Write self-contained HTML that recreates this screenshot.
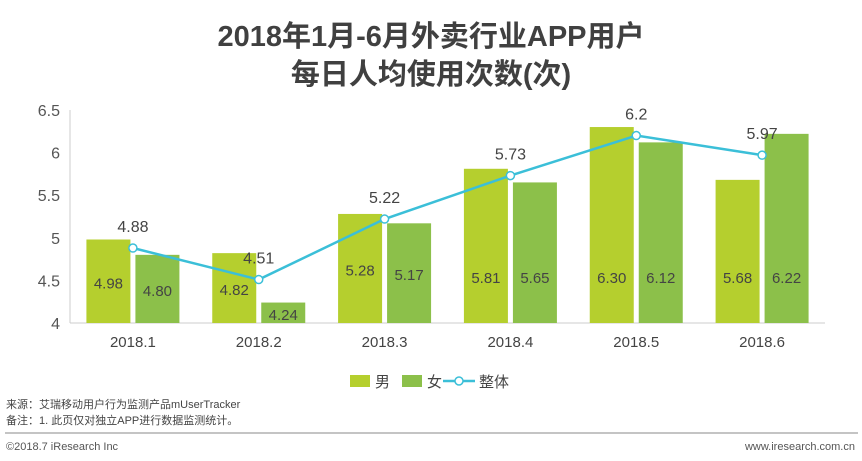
<!DOCTYPE html>
<html><head><meta charset="utf-8">
<style>
body{margin:0;background:#fff;width:862px;height:456px;overflow:hidden;font-family:"Liberation Sans","Noto Sans CJK SC",sans-serif;}
svg text{font-family:"Liberation Sans","Noto Sans CJK SC",sans-serif;}
</style></head>
<body>
<svg id="c" width="862" height="456">
<text x="431" y="46" text-anchor="middle" font-size="29" font-weight="bold" fill="#404040">2018年1月-6月外卖行业APP用户</text>
<text x="431" y="84" text-anchor="middle" font-size="29" font-weight="bold" fill="#404040">每日人均使用次数(次)</text>
<g id="plot"></g>
<g>
<rect x="350" y="375" width="20" height="12" fill="#b5cf2e"/>
<text x="375" y="387" font-size="15" fill="#444">男</text>
<rect x="402" y="375" width="20" height="12" fill="#8cc04a"/>
<text x="427" y="387" font-size="15" fill="#444">女</text>
<line x1="443" y1="381" x2="475" y2="381" stroke="#3bbfd8" stroke-width="2.5"/>
<circle cx="459" cy="381" r="4" fill="#fff" stroke="#3bbfd8" stroke-width="1.5"/>
<text x="479" y="387" font-size="15" fill="#444">整体</text>
</g>
<text x="6" y="408" font-size="11" fill="#444">来源：艾瑞移动用户行为监测产品mUserTracker</text>
<text x="6" y="424" font-size="11" fill="#444">备注：1. 此页仅对独立APP进行数据监测统计。</text>
<line x1="5" y1="433" x2="858" y2="433" stroke="#888" stroke-width="1"/>
<text x="6" y="450" font-size="11" fill="#555">©2018.7 iResearch Inc</text>
<text x="855" y="450" text-anchor="end" font-size="11" fill="#555">www.iresearch.com.cn</text>
</svg>
<script>
const categories=["2018.1","2018.2","2018.3","2018.4","2018.5","2018.6"];
const maleValues=[4.98,4.82,5.28,5.81,6.30,5.68];
const femaleValues=[4.80,4.24,5.17,5.65,6.12,6.22];
const totalValues=[4.88,4.51,5.22,5.73,6.2,5.97];
const totalLabels=["4.88","4.51","5.22","5.73","6.2","5.97"];
const yTicks=[4,4.5,5,5.5,6,6.5];
const yTickLabels=["4","4.5","5","5.5","6","6.5"];
const NS="http://www.w3.org/2000/svg";
const g=document.getElementById('plot');
const x0=70,x1=825,yBase=323,yTop=110,yMin=4,yMax=6.5;
const band=(x1-x0)/categories.length;
function y(v){return yBase-(v-yMin)/(yMax-yMin)*(yBase-yTop);}
function cx(i){return x0+band*(i+0.5);}
function labelY(v){const mid=(y(v)+yBase)/2;return (v>=5.5?Math.max(mid,276):mid)+7;}
function mk(t,a,txt){const e=document.createElementNS(NS,t);for(const k in a)e.setAttribute(k,a[k]);if(txt!=null)e.textContent=txt;g.appendChild(e);return e;}
let e=mk('line',{x1:x0,y1:yTop,x2:x0,y2:yBase,stroke:'#ccc'});


e=mk('line',{x1:x0,y1:yBase,x2:x1,y2:yBase,stroke:'#ccc'});


yTicks.forEach((t,i)=>{
 const el=mk('text',{x:x0-10,y:y(t)+6,'text-anchor':'end','font-size':16,fill:'#555'},yTickLabels[i]);
 
 
});
const bw=44,gap=5;
categories.forEach((c,i)=>{
 const xm=cx(i)-gap/2-bw, xf=cx(i)+gap/2;
 let r=mk('rect',{x:xm,y:y(maleValues[i]),width:bw,height:yBase-y(maleValues[i]),fill:'#b5cf2e'});
 
 
 r=mk('rect',{x:xf,y:y(femaleValues[i]),width:bw,height:yBase-y(femaleValues[i]),fill:'#8cc04a'});
 
 
 let t=mk('text',{x:xm+bw/2,y:labelY(maleValues[i]),'text-anchor':'middle','font-size':15,fill:'#444'},maleValues[i].toFixed(2));
 
 
 t=mk('text',{x:xf+bw/2,y:labelY(femaleValues[i]),'text-anchor':'middle','font-size':15,fill:'#444'},femaleValues[i].toFixed(2));
 
 
 t=mk('text',{x:cx(i),y:yBase+24,'text-anchor':'middle','font-size':15,fill:'#444'},c);
 
 
});
const pl=mk('polyline',{points:totalValues.map((v,i)=>cx(i)+','+y(v)).join(' '),fill:'none',stroke:'#3bbfd8','stroke-width':2.5});


totalValues.forEach((v,i)=>{
 const p=mk('circle',{cx:cx(i),cy:y(v),r:4,fill:'#fff',stroke:'#3bbfd8','stroke-width':1.5});
 
 
 const t=mk('text',{x:cx(i),y:y(v)-16,'text-anchor':'middle','font-size':16,fill:'#444'},totalLabels[i]);
 
 
});
</script>
</body></html>
